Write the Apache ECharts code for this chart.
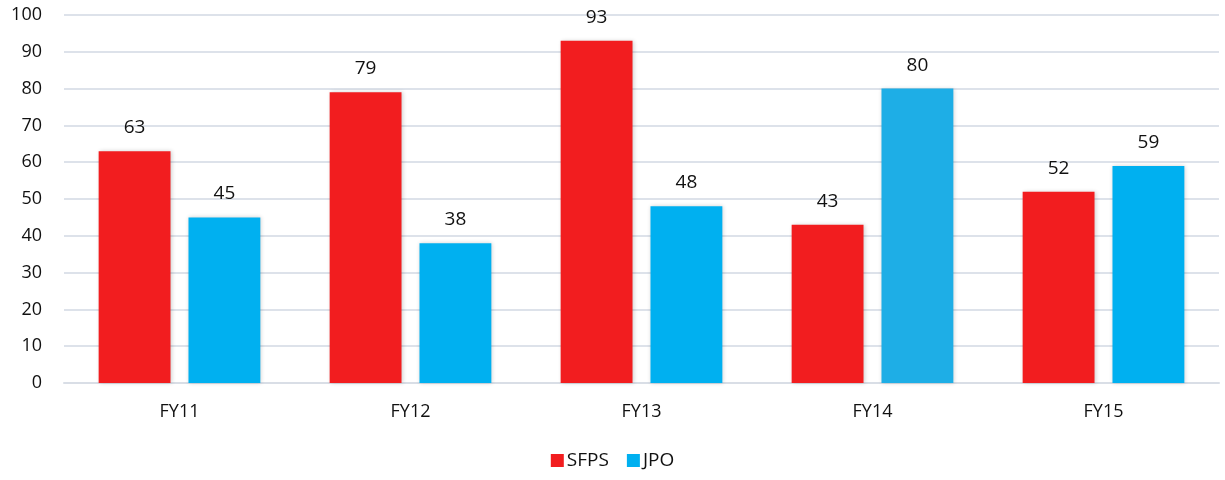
<!DOCTYPE html>
<html>
<head>
<meta charset="utf-8">
<script src="https://cdn.jsdelivr.net/npm/echarts@6/dist/echarts.min.js"></script>
<style>
  html, body { margin: 0; padding: 0; background: #fff; }
  #chart { width: 1225px; height: 480px; }
</style>
</head>
<body>
<div id="chart"></div>
<script>
const categories = ['FY11', 'FY12', 'FY13', 'FY14', 'FY15'];
const sfpsValues = [63, 79, 93, 43, 52];
const jpoValues = [45, 38, 48, 80, 59];
const yTicks = [0, 10, 20, 30, 40, 50, 60, 70, 80, 90, 100];

const FONT = '"Open Sans", "Noto Sans", sans-serif';
const RED = '#F21D1F';
const BLUE = '#00B0F0';

const chart = echarts.init(document.getElementById('chart'));

const barShadow = {
  shadowBlur: 4,
  shadowColor: 'rgba(0,0,0,0.18)',
  shadowOffsetX: 1,
  shadowOffsetY: 0
};

const label = {
  show: true,
  position: 'top',
  distance: 14,
  color: '#111',
  fontFamily: FONT,
  fontSize: 19
};

chart.setOption({
  animation: false,
  textStyle: { fontFamily: FONT },
  grid: { left: 64, right: 6, top: 15, bottom: 97, containLabel: false },
  legend: {
    bottom: 5,
    left: 'center',
    itemWidth: 13,
    itemHeight: 13,
    itemGap: 18,
    textStyle: { fontFamily: FONT, fontSize: 19, color: '#111', padding: [0, 0, 0, -2] },
    data: [
      { name: 'SFPS', icon: 'rect' },
      { name: 'JPO', icon: 'rect' }
    ]
  },
  xAxis: {
    type: 'category',
    data: categories,
    axisLine: { show: true, lineStyle: { color: '#D9DEE6', width: 2 } },
    axisTick: { show: false },
    axisLabel: { color: '#111', fontFamily: FONT, fontSize: 18, margin: 20 }
  },
  yAxis: {
    type: 'value',
    min: yTicks[0],
    max: yTicks[yTicks.length - 1],
    interval: 10,
    axisLine: { show: false },
    axisTick: { show: false },
    axisLabel: { color: '#111', fontFamily: FONT, fontSize: 18, margin: 22 },
    splitLine: { lineStyle: { color: '#DDE2EA', width: 2 } }
  },
  series: [
    {
      name: 'SFPS',
      type: 'bar',
      data: sfpsValues,
      barGap: '25%',
      barCategoryGap: '30%',
      itemStyle: Object.assign({ color: RED }, barShadow),
      label: label
    },
    {
      name: 'JPO',
      type: 'bar',
      data: jpoValues.map((v, i) => i === 3
        ? { value: v, itemStyle: { color: '#1EAEE6' } }
        : v),
      itemStyle: Object.assign({ color: BLUE }, barShadow),
      label: label
    }
  ]
});
</script>
</body>
</html>
